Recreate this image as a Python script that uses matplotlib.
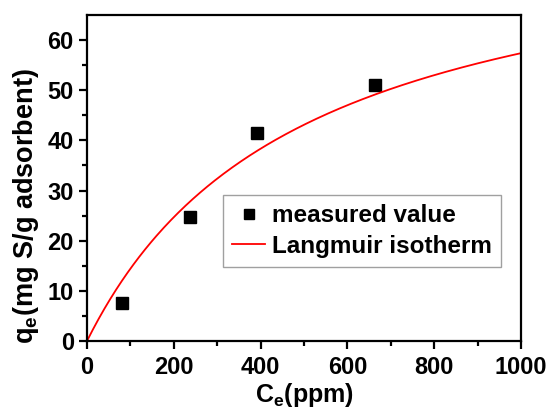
import matplotlib.pyplot as plt
import numpy as np

plt.rcParams['font.family'] = ['Liberation Sans', 'DejaVu Sans']
plt.rcParams['font.weight'] = 'bold'
plt.rcParams['mathtext.fontset'] = 'custom'
plt.rcParams['mathtext.rm'] = 'Liberation Sans:bold'
plt.rcParams['mathtext.it'] = 'Liberation Sans:bold'
plt.rcParams['mathtext.bf'] = 'Liberation Sans:bold'

# measured equilibrium data
ce_measured = [80, 237, 392, 664]
qe_measured = [7.5, 24.8, 41.4, 51.0]

# Langmuir fit parameters: qe = qmax*K*Ce/(1+K*Ce)
qmax = 85.8
k_l = 0.00202

x_ticks = [0, 200, 400, 600, 800, 1000]
y_ticks = [0, 10, 20, 30, 40, 50, 60]

fig = plt.figure(figsize=(5.5, 4.11), dpi=100)
ax = fig.add_axes([87/550, 1 - 341/411, (521-87)/550, (341-15)/411])

ce_fit = np.linspace(0, 1000, 300)
qe_fit = qmax * k_l * ce_fit / (1 + k_l * ce_fit)

ax.plot(ce_measured, qe_measured, 's', color='black', markersize=8, label='measured value')
ax.plot(ce_fit, qe_fit, '-', color='red', linewidth=1.3, label='Langmuir isotherm')

ax.set_xlim(0, 1000)
ax.set_ylim(0, 65)
ax.set_xticks(x_ticks)
ax.set_yticks(y_ticks)
ax.set_xticks(np.arange(100, 1000, 200), minor=True)
ax.set_yticks(np.arange(5, 65, 10), minor=True)
ax.tick_params(which='major', direction='out', length=6, width=1.6, labelsize=17)
ax.tick_params(axis='x', which='major', pad=5)
ax.tick_params(which='minor', direction='out', length=3.5, width=1.6)
for s in ax.spines.values():
    s.set_linewidth(1.6)

ax.set_xlabel('C$_e$(ppm)', fontsize=18, fontweight='bold', labelpad=1)
ax.set_ylabel('q$_e$(mg S/g adsorbent)', fontsize=19.5, fontweight='bold')
ax.yaxis.set_label_coords(-0.107, 0.415)

leg = ax.legend(loc='lower left', bbox_to_anchor=((223-87)/434, (341-267)/326),
                fontsize=17.5, frameon=True, fancybox=False, handlelength=1.35,
                borderpad=0.38, labelspacing=0.3, handletextpad=0.3,
                borderaxespad=0, markerscale=0.9)
leg.get_frame().set_edgecolor('#888888')
leg.get_frame().set_linewidth(1.0)

fig.savefig('out.png', dpi=100)
